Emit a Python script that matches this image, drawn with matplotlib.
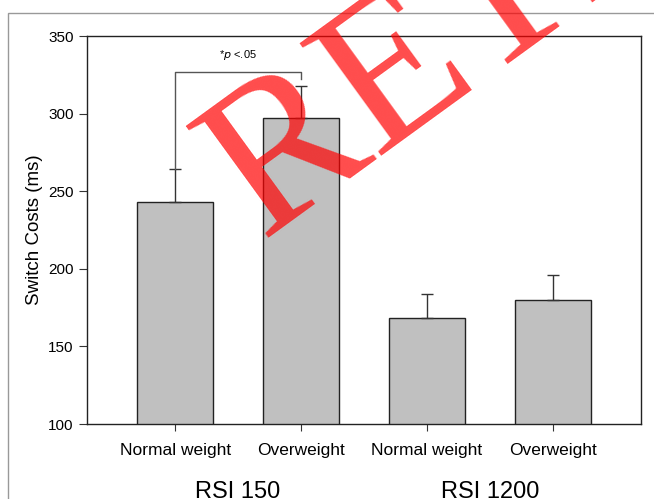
import numpy as np
import matplotlib.pyplot as plt
from matplotlib.patches import Rectangle

groups = ["RSI 150", "RSI 1200"]
categories = ["Normal weight", "Overweight", "Normal weight", "Overweight"]
means = [243, 297, 168, 180]
errors = [21, 21, 16, 16]
sig_label = "*$\\it{p}$ <.05"

plt.rcParams['font.family'] = ['Liberation Sans', 'DejaVu Sans']

fig = plt.figure(figsize=(6.54, 4.99), dpi=100)
ax = fig.add_axes([87 / 654, 75 / 499, 554 / 654, 388 / 499])

x = np.arange(len(means))
ax.bar(x, means, width=0.6, color="#c0c0c0", edgecolor="#222222", linewidth=1, zorder=2)
ax.errorbar(x, means, yerr=[np.zeros(len(errors)), errors], fmt="none",
            ecolor="#333333", elinewidth=1, capsize=4, capthick=1, zorder=3)

ax.set_ylim(100, 350)
ax.set_xlim(-0.7, 3.7)
ax.set_yticks([100, 150, 200, 250, 300, 350])
ax.set_xticks(x)
ax.set_xticklabels(categories, fontsize=12.5)
ax.tick_params(axis="y", labelsize=11, length=6, pad=3.5, direction="out", color="#333333")
ax.tick_params(axis="x", length=5, pad=9, direction="out", color="#333333")
ax.set_ylabel("Switch Costs (ms)", fontsize=13.5, labelpad=4)
for s in ax.spines.values():
    s.set_color("#222222")
    s.set_linewidth(1)

# significance bracket
top = 327
ax.plot([0, 0, 1, 1], [means[0] + errors[0], top, top, means[1] + errors[1] + 4],
        color="#555555", lw=1, zorder=3)
ax.text(0.5, 338, sig_label, ha="center", va="center", fontsize=8)

# group labels under the categories
for i, g in enumerate(groups):
    ax.annotate(g, xy=(2 * i + 0.5, 1), xycoords=("data", "figure pixels"),
                ha="center", va="baseline", fontsize=17, annotation_clip=False)

# outer frame
fig.patches.append(Rectangle((8 / 654, -0.1), 1.0, 1.1 - 13 / 499, fill=False,
                             edgecolor="#999999", lw=1, transform=fig.transFigure))

# watermark
fig.text(262 / 654, 1 - 238 / 499, "RETRACTED", family="Liberation Serif",
         fontsize=153, color="red", alpha=0.7, rotation=36,
         rotation_mode="anchor", ha="left", va="baseline", zorder=10)

fig.savefig("out.png", dpi=100)
